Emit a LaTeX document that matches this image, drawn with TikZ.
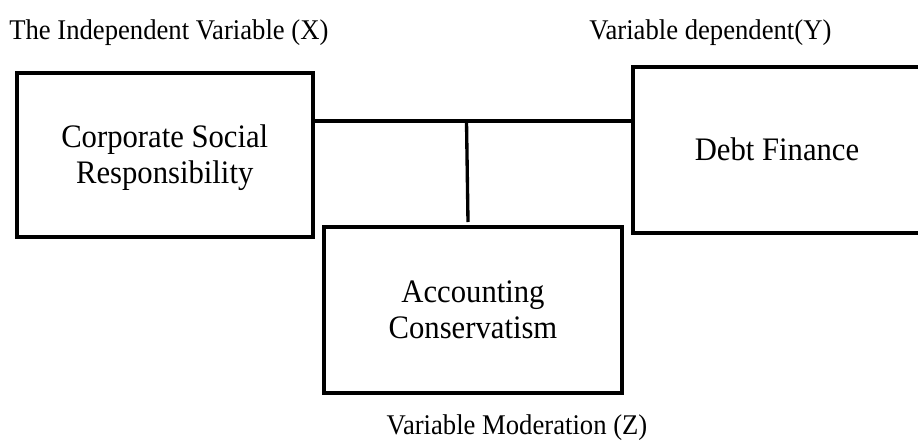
\documentclass[tikz,border=0pt]{standalone}
\usepackage{graphicx}
\usepackage{fontspec}
\setmainfont{Liberation Serif}
\newcommand\talltext[1]{\raisebox{0pt}[\dimexpr\height+5pt\relax][\depth]{\scalebox{1}[1.07]{\begin{tabular}{@{}c@{}}#1\end{tabular}}}}
\begin{document}
\begin{tikzpicture}[x=0.75pt,y=-0.75pt,
  varbox/.style={draw=black, line width=3pt, inner sep=0pt, align=center,
    font=\fontsize{23}{25.5}\selectfont},
  link/.style={draw=black, line width=2.5pt},
  lbl/.style={inner sep=0pt, font=\fontsize{20}{24}\selectfont}]
\useasboundingbox (0,0) rectangle (918,440);
\fill[white] (0,0) rectangle (918,440);
% boxes
\node[varbox, minimum width=295.5*0.75pt, minimum height=164*0.75pt] (csr) at (164.75,155) {\talltext{Corporate Social\\Responsibility}};
\node[varbox, minimum width=298*0.75pt, minimum height=165.5*0.75pt] (ac) at (473,309.75) {\talltext{Accounting\\Conservatism}};
\node[varbox, minimum width=288*0.75pt, minimum height=165.5*0.75pt] (debt) at (777,149.75) {\talltext{Debt Finance}};
% connectors
\coordinate (j) at (466.5,121);
\coordinate (e) at (468,222);
\draw[link] (j -| csr.east) -- (j -| debt.west);
\draw[link] (j) -- (e);
% labels
\node[lbl, anchor=base west] (lx) at (9,39) {\scalebox{1}[1.07]{The Independent Variable (X)}};
\node[lbl, anchor=base west] (ly) at (589,39) {\scalebox{1}[1.07]{Variable dependent(Y)}};
\node[lbl, anchor=base] (lz) at (517,434) {\scalebox{1}[1.07]{Variable Moderation (Z)}};
\end{tikzpicture}
\end{document}
